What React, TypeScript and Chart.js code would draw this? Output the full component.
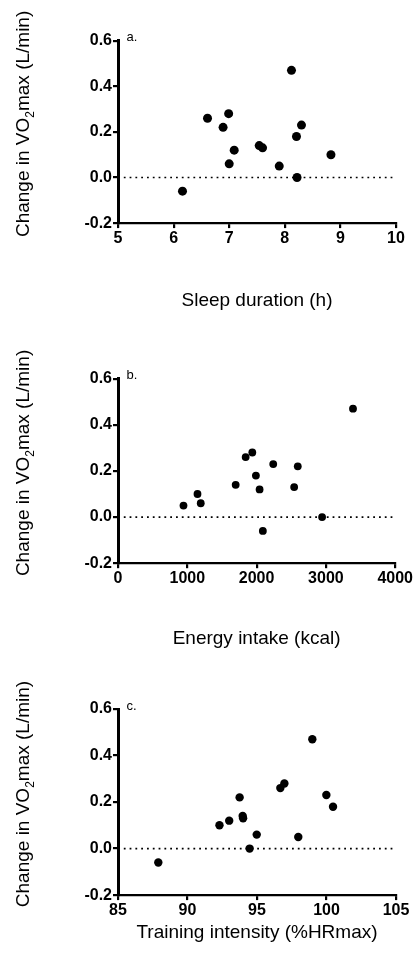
import React, { useEffect, useRef } from "react";
import { Chart, registerables } from "chart.js";

Chart.register(...registerables);

// ---------- data ----------
const sleepHours = [6.16, 6.61, 6.89, 6.99, 7.0, 7.09, 7.54, 7.6, 7.9, 8.12, 8.21, 8.22, 8.3, 8.83];
const sleepChange = [-0.06, 0.26, 0.22, 0.28, 0.06, 0.12, 0.14, 0.13, 0.05, 0.47, 0.18, 0.0, 0.23, 0.1];

const energyKcal = [945, 1147, 1194, 1698, 1842, 1938, 1990, 2043, 2090, 2240, 2542, 2594, 2945, 3391];
const energyChange = [0.05, 0.1, 0.06, 0.14, 0.26, 0.28, 0.18, 0.12, -0.06, 0.23, 0.13, 0.22, 0.0, 0.47];

const intensityPct = [87.9, 92.3, 93.0, 93.75, 93.97, 94.0, 94.47, 94.98, 96.68, 96.97, 97.97, 98.98, 99.99, 100.47];
const intensityChange = [-0.06, 0.1, 0.12, 0.22, 0.14, 0.13, 0.0, 0.06, 0.26, 0.28, 0.05, 0.47, 0.23, 0.18];

const yTickValues = [-0.2, 0.0, 0.2, 0.4, 0.6];
const sleepTicks = [5, 6, 7, 8, 9, 10];
const energyTicks = [0, 1000, 2000, 3000, 4000];
const intensityTicks = [85, 90, 95, 100, 105];

const yTitleMain1 = "Change in VO";
const yTitleSub = "2";
const yTitleMain2 = "max (L/min)";

const panels = [
  { label: "a.", xTitle: "Sleep duration (h)", xs: sleepHours, ys: sleepChange, xTicks: sleepTicks, radius: 4.5,
    top: 0, plotTop: 40.7, plotBottom: 223, titleY: 300.5 },
  { label: "b.", xTitle: "Energy intake (kcal)", xs: energyKcal, ys: energyChange, xTicks: energyTicks, radius: 3.9,
    top: 330, plotTop: 378.7, plotBottom: 563.1, titleY: 638.5 },
  { label: "c.", xTitle: "Training intensity (%HRmax)", xs: intensityPct, ys: intensityChange, xTicks: intensityTicks, radius: 4.2,
    top: 660, plotTop: 709, plotBottom: 894.5, titleY: 932 },
];

// ---------- layout constants ----------
const W = 414;
const PLOT_LEFT = 118;
const PLOT_RIGHT = 396;
const FONT = '"Liberation Sans", Arial, Helvetica, sans-serif';
const TITLE_SIZE = 19;
const TITLE_LH = TITLE_SIZE * 1.2;

const yTitlePlugin = {
  id: "yTitleLabel",
  afterDraw(chart: any, _args: any, opts: any) {
    const { ctx, chartArea } = chart;
    ctx.save();
    ctx.fillStyle = "#000";
    const cy = (chartArea.top + chartArea.bottom) / 2 + opts.dy;
    ctx.translate(opts.baseX, cy);
    ctx.rotate(-Math.PI / 2);
    ctx.textBaseline = "alphabetic";
    ctx.textAlign = "left";
    const mainFont = `${TITLE_SIZE}px ${FONT}`;
    const subFont = `12px ${FONT}`;
    ctx.font = mainFont;
    const w1 = ctx.measureText(yTitleMain1).width;
    const w3 = ctx.measureText(yTitleMain2).width;
    ctx.font = subFont;
    const w2 = ctx.measureText(yTitleSub).width;
    let x = -(w1 + w2 + w3) / 2;
    ctx.font = mainFont;
    ctx.fillText(yTitleMain1, x, 0);
    x += w1;
    ctx.font = subFont;
    ctx.fillText(yTitleSub, x, 5);
    x += w2;
    ctx.font = mainFont;
    ctx.fillText(yTitleMain2, x, 0);
    ctx.restore();

    ctx.save();
    ctx.fillStyle = "#000";
    ctx.font = `13px ${FONT}`;
    ctx.textBaseline = "middle";
    ctx.textAlign = "left";
    ctx.fillText(opts.label, chartArea.left + 8.5, chartArea.top - 3);
    ctx.restore();
  },
};

export default function App() {
  const refs = [useRef<HTMLCanvasElement>(null), useRef<HTMLCanvasElement>(null), useRef<HTMLCanvasElement>(null)];

  useEffect(() => {
    const charts: Chart[] = [];
    panels.forEach((p, i) => {
      const canvas = refs[i].current;
      if (!canvas) return;
      const H = p.titleY + TITLE_LH / 2 - p.top;
      const plotTop = p.plotTop - p.top;
      const plotBottom = p.plotBottom - p.top;
      const xMin = p.xTicks[0];
      const xMax = p.xTicks[p.xTicks.length - 1];
      const chart = new Chart(canvas, {
        type: "scatter",
        data: {
          datasets: [
            {
              type: "scatter",
              data: p.xs.map((x, k) => ({ x, y: p.ys[k] })),
              backgroundColor: "#000",
              borderWidth: 0,
              pointRadius: p.radius,
              order: 0,
            } as any,
            {
              type: "line",
              data: [
                { x: xMin, y: 0 },
                { x: xMax, y: 0 },
              ],
              borderColor: "#000",
              borderWidth: 1.6,
              borderDash: [1.8, 4],
              pointRadius: 0,
              fill: false,
              order: 1,
            } as any,
          ],
        },
        options: {
          responsive: false,
          maintainAspectRatio: false,
          animation: false,
          events: [],
          layout: { padding: { top: plotTop, left: 0, right: W - PLOT_RIGHT, bottom: 0 } },
          plugins: {
            legend: { display: false },
            tooltip: { enabled: false },
            yTitleLabel: { baseX: 28.5, dy: -8, label: p.label },
          } as any,
          scales: {
            x: {
              type: "linear",
              min: xMin,
              max: xMax,
              afterBuildTicks: (scale: any) => {
                scale.ticks = p.xTicks.map((v) => ({ value: v }));
              },
              afterFit: (scale: any) => {
                scale.height = H - plotBottom;
              },
              ticks: {
                color: "#000",
                font: { family: FONT, size: 16, weight: "bold" },
                padding: 1,
                maxRotation: 0,
                autoSkip: false,
                callback: (v: any) => String(v),
              },
              grid: {
                display: true,
                drawOnChartArea: false,
                drawTicks: true,
                tickLength: 5,
                lineWidth: 2.2,
                color: "#000",
              },
              border: { display: true, color: "#000", width: 2.2 },
              title: {
                display: true,
                text: p.xTitle,
                color: "#000",
                font: { family: FONT, size: TITLE_SIZE, weight: "normal" },
                padding: 0,
              },
            },
            y: {
              type: "linear",
              min: yTickValues[0],
              max: yTickValues[yTickValues.length - 1],
              afterBuildTicks: (scale: any) => {
                scale.ticks = yTickValues.map((v) => ({ value: v }));
              },
              afterFit: (scale: any) => {
                scale.width = PLOT_LEFT;
              },
              ticks: {
                color: "#000",
                font: { family: FONT, size: 16, weight: "bold" },
                padding: 1,
                autoSkip: false,
                callback: (v: any) => Number(v).toFixed(1),
              },
              grid: {
                display: true,
                drawOnChartArea: false,
                drawTicks: true,
                tickLength: 5,
                lineWidth: 2.2,
                color: "#000",
              },
              border: { display: true, color: "#000", width: 3 },
            },
          },
        } as any,
        plugins: [yTitlePlugin as any],
      });
      charts.push(chart);
    });
    return () => charts.forEach((c) => c.destroy());
  }, []);

  return (
    <div style={{ position: "absolute", left: 0, top: 0, width: W, height: 978, background: "#fff" }}>
      {panels.map((p, i) => {
        const H = Math.ceil(p.titleY + TITLE_LH / 2 - p.top);
        return (
          <canvas
            key={i}
            ref={refs[i]}
            width={W}
            height={H}
            style={{ position: "absolute", left: 0, top: p.top, width: W, height: H }}
          />
        );
      })}
    </div>
  );
}
